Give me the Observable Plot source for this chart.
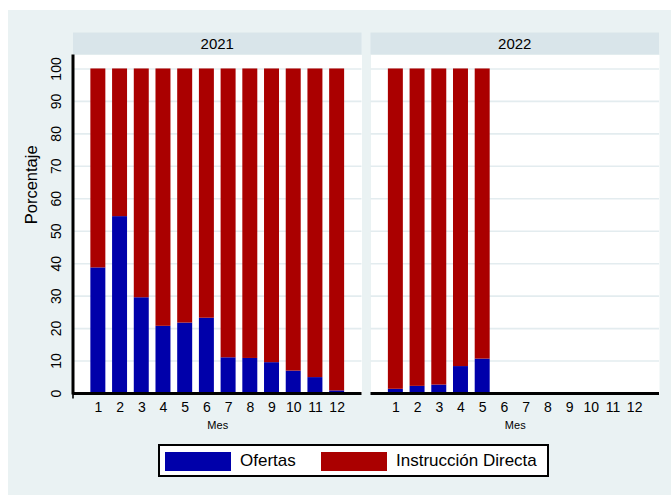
<!DOCTYPE html>
<html>
<head>
<meta charset="utf-8">
<script src="https://cdn.jsdelivr.net/npm/d3@7"></script>
<script src="https://cdn.jsdelivr.net/npm/@observablehq/plot@0.6"></script>
<style>
  html, body { margin: 0; padding: 0; background: #ffffff; }
  body { width: 671px; height: 495px; position: relative; overflow: hidden; font-family: "Liberation Sans", Arial, sans-serif; }
  #bg { position: absolute; left: 8px; top: 10px; width: 663px; height: 485px; background: #eaf2f3; }
  #chart { position: absolute; left: 0; top: 0; }
  #legend { position: absolute; left: 158px; top: 444px; width: 387px; height: 29px; border: 2px solid #000; background: #fff; }
  .sw { position: absolute; top: 6px; width: 66px; height: 19px; }
  .lt { position: absolute; top: 4px; font-size: 17px; line-height: 22px; color: #000; white-space: nowrap; }
</style>
</head>
<body>
<div id="bg"></div>
<div id="chart"></div>
<div id="legend"></div>
<script>
// ---- data ----
const years = [2021, 2022];
const months = [1, 2, 3, 4, 5, 6, 7, 8, 9, 10, 11, 12];
const series = ["Ofertas", "Instrucción Directa"];
const colors = ["#0000aa", "#aa0000"];
const ofertas2021 = [38.7, 54.5, 29.5, 20.7, 21.7, 23.2, 11.0, 10.8, 9.5, 6.9, 4.9, 0.8];
const directa2021 = [61.3, 45.5, 70.5, 79.3, 78.3, 76.8, 89.0, 89.2, 90.5, 93.1, 95.1, 99.2];
const months2022 = [1, 2, 3, 4, 5];
const ofertas2022 = [1.3, 2.2, 2.6, 8.3, 10.6];
const directa2022 = [98.7, 97.8, 97.4, 91.7, 89.4];
const yTicks = [0, 5, 10, 15, 20, 25, 30, 35, 40, 45, 50, 55, 60, 65, 70, 75, 80, 85, 90, 95, 100];
const yLabelTicks = [0, 10, 20, 30, 40, 50, 60, 70, 80, 90, 100];
const yTitle = "Porcentaje";
const xTitle = "Mes";

// ---- table ----
const rows = [];
months.forEach((m, i) => {
  rows.push({year: 2021, month: m, serie: series[0], value: ofertas2021[i]});
  rows.push({year: 2021, month: m, serie: series[1], value: directa2021[i]});
});
months2022.forEach((m, i) => {
  rows.push({year: 2022, month: m, serie: series[0], value: ofertas2022[i]});
  rows.push({year: 2022, month: m, serie: series[1], value: directa2022[i]});
});

const font = "'Liberation Sans', Arial, sans-serif";
const W = 671, H = 440, ML = 73, MR = 12, MT = 54.5, MB = 47;

const chart = Plot.plot({
  width: W,
  height: H,
  marginLeft: ML,
  marginRight: MR,
  marginTop: MT,
  marginBottom: MB,
  style: {background: "transparent", fontFamily: font, overflow: "visible"},
  fx: {domain: years, axis: null, paddingInner: 0.0303, paddingOuter: 0, round: false},
  x: {domain: months, paddingInner: 0.31, paddingOuter: 0.80, round: false},
  y: {domain: [0, 104.3]},
  color: {domain: series, range: colors},
  marks: [
    Plot.frame({fill: "white", stroke: null}),
    Plot.gridY(yLabelTicks.filter(d => d > 0), {stroke: "#e3ecef", strokeOpacity: 1, strokeWidth: 1.6}),
    Plot.barY(rows, {fx: "year", x: "month", y: "value", fill: "serie", order: series}),
    Plot.ruleY([0], {stroke: "#000", strokeWidth: 3}),
    Plot.axisY({
      ticks: yTicks, tickSize: 5, tickPadding: 12, strokeWidth: 1.6,
      tickFormat: d => yLabelTicks.includes(d) ? String(d) : "",
      rotate: -90, textAnchor: "middle", fontSize: 14, fill: "#000", label: null
    }),
    Plot.text([yTitle], {frameAnchor: "left", dx: -42, rotate: -90, facetAnchor: "left", fontSize: 16.5, lineAnchor: "middle", fill: "#000"}),
    Plot.axisX({tickSize: 0, tickPadding: 9, fontSize: 14, fill: "#000", label: null}),
    Plot.text([xTitle], {frameAnchor: "bottom", dy: 32, lineAnchor: "middle", fontSize: 11, fill: "#000"})
  ]
});

// strip headers and left axis line, positioned from the chart's fx scale
const fxs = chart.scale("fx");
const svg = d3.select(chart);
const g = svg.insert("g", ":first-child");
years.forEach(yr => {
  const x0 = fxs.apply(yr);
  g.append("rect").attr("x", x0).attr("y", 32.5).attr("width", fxs.bandwidth).attr("height", 22).attr("fill", "#d9e5ea");
  g.append("text").attr("x", x0 + fxs.bandwidth / 2).attr("y", 43.5).attr("dy", "0.36em")
    .attr("text-anchor", "middle").attr("font-size", 15).attr("font-family", font).attr("fill", "#000").text(String(yr));
});
const xl = fxs.apply(years[0]);
svg.append("rect")
  .attr("x", xl - 1.5).attr("y", MT).attr("width", 3).attr("height", H - MB - MT + 1.5)
  .attr("fill", "#000");
document.getElementById("chart").appendChild(chart);

// legend
const leg = document.getElementById("legend");
const swX = [5, 161];
const txX = [80, 236];
series.forEach((s, i) => {
  const sw = document.createElement("div");
  sw.className = "sw"; sw.style.left = swX[i] + "px"; sw.style.background = colors[i];
  leg.appendChild(sw);
  const t = document.createElement("div");
  t.className = "lt"; t.style.left = txX[i] + "px"; t.textContent = s;
  leg.appendChild(t);
});
</script>
</body>
</html>
